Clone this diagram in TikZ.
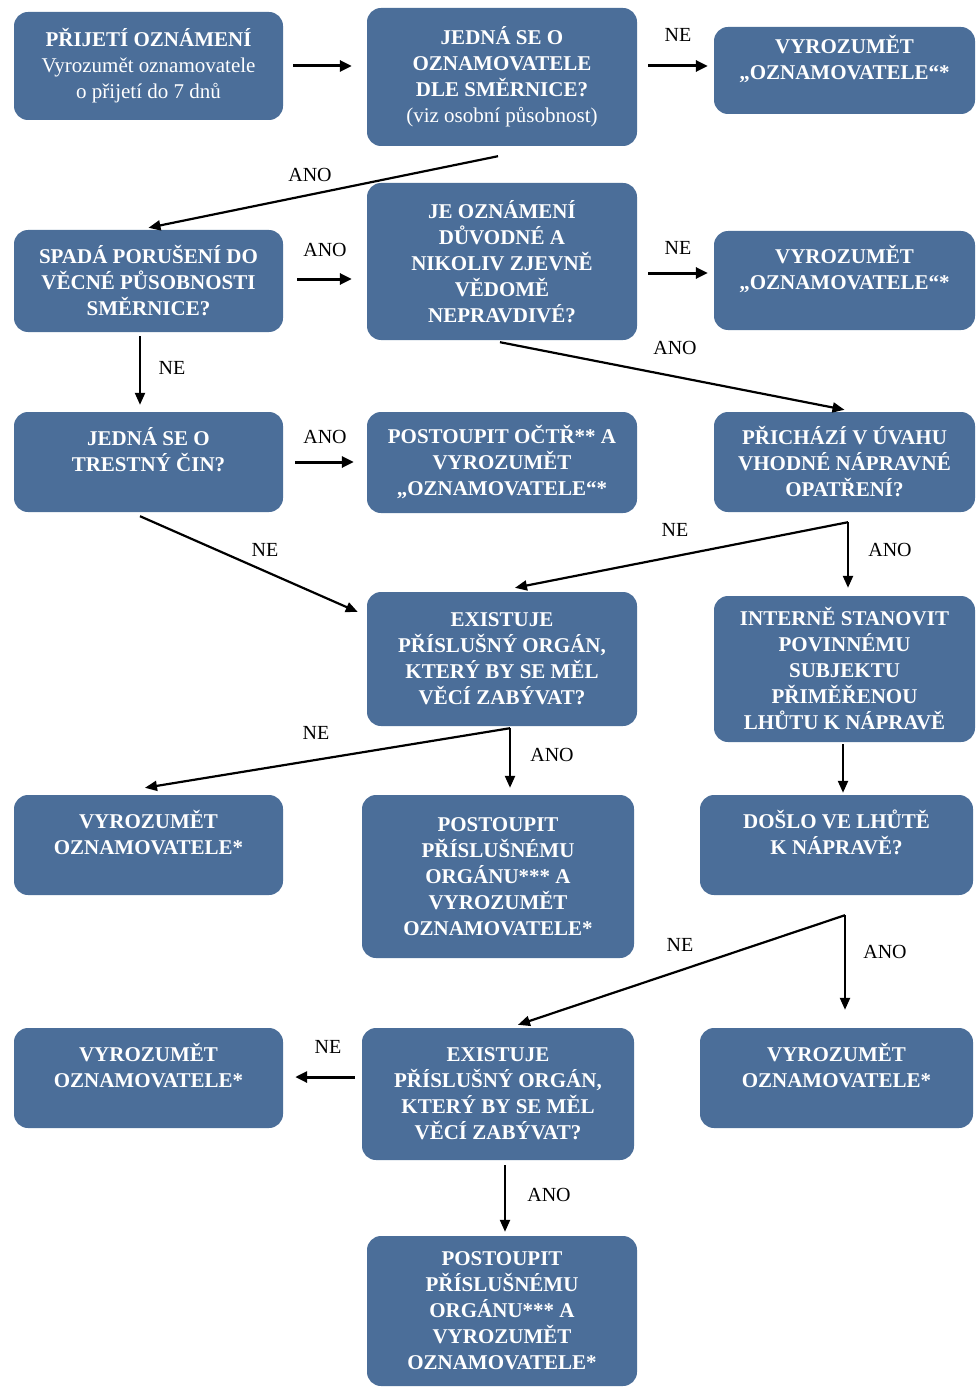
\documentclass[tikz,border=0pt]{standalone}
\usepackage{fontspec}
\setmainfont{Liberation Serif}
\usetikzlibrary{arrows.meta,calc}
\definecolor{boxblue}{RGB}{75,110,153}
\begin{document}
\begin{tikzpicture}[x=1pt,y=-1pt,
  box/.style={fill=boxblue, rounded corners=14pt, text=white, align=center, inner sep=0pt,
    font=\bfseries\fontsize{21}{26}\selectfont},
  lab/.style={font=\fontsize{20}{24}\selectfont, inner sep=0pt},
  arr/.style={-{Triangle[length=12pt,width=10pt]}, line width=2.2pt},
  harr/.style={-{Triangle[length=12pt,width=11pt]}, line width=3pt}]
\useasboundingbox (0,0) rectangle (976,1388);

% boxes
\node[box, minimum width=269pt, minimum height=108pt] (A) at (148.5,66)
  {PŘIJETÍ OZNÁMENÍ\\ {\mdseries Vyrozumět oznamovatele}\\ {\mdseries o přijetí do 7 dnů}};
\node[box, minimum width=270pt, minimum height=138pt] (B) at (502,77)
  {JEDNÁ SE O\\OZNAMOVATELE\\DLE SMĚRNICE?\\{\mdseries (viz osobní působnost)}};
\node[box, minimum width=261pt, minimum height=87pt] (C) at (844.5,70.5)
  {VYROZUMĚT\\„OZNAMOVATELE“*\\\phantom{X}};
\node[box, minimum width=269pt, minimum height=102pt] (D) at (148.5,281)
  {SPADÁ PORUŠENÍ DO\\VĚCNÉ PŮSOBNOSTI\\SMĚRNICE?};
\node[box, minimum width=270pt, minimum height=157pt] (E) at (502,261.5)
  {JE OZNÁMENÍ\\DŮVODNÉ A\\NIKOLIV ZJEVNĚ\\VĚDOMĚ\\NEPRAVDIVÉ?};
\node[box, minimum width=261pt, minimum height=99pt] (F) at (844.5,280.5)
  {VYROZUMĚT\\„OZNAMOVATELE“*\\\phantom{X}};
\node[box, minimum width=269pt, minimum height=100pt] (G) at (148.5,462)
  {JEDNÁ SE O\\TRESTNÝ ČIN?\\\phantom{X}};
\node[box, minimum width=270pt, minimum height=101pt] (H) at (502,462.5)
  {POSTOUPIT OČTŘ** A\\VYROZUMĚT\\„OZNAMOVATELE“*};
\node[box, minimum width=261pt, minimum height=100pt] (I) at (844.5,462)
  {PŘICHÁZÍ V ÚVAHU\\VHODNÉ NÁPRAVNÉ\\OPATŘENÍ?};
\node[box, minimum width=270pt, minimum height=134pt] (J) at (502,659)
  {EXISTUJE\\PŘÍSLUŠNÝ ORGÁN,\\KTERÝ BY SE MĚL\\VĚCÍ ZABÝVAT?};
\node[box, minimum width=261pt, minimum height=146pt] (K) at (844.5,669)
  {INTERNĚ STANOVIT\\POVINNÉMU\\SUBJEKTU\\PŘIMĚŘENOU\\LHŮTU K NÁPRAVĚ};
\node[box, minimum width=269pt, minimum height=100pt] (L) at (148.5,845)
  {VYROZUMĚT\\OZNAMOVATELE*\\\phantom{X}};
\node[box, minimum width=272pt, minimum height=163pt] (M) at (498,876.5)
  {POSTOUPIT\\PŘÍSLUŠNÉMU\\ORGÁNU*** A\\VYROZUMĚT\\OZNAMOVATELE*};
\node[box, minimum width=273pt, minimum height=100pt] (N) at (836.5,845)
  {DOŠLO VE LHŮTĚ\\K NÁPRAVĚ?\\\phantom{X}};
\node[box, minimum width=269pt, minimum height=100pt] (O) at (148.5,1078)
  {VYROZUMĚT\\OZNAMOVATELE*\\\phantom{X}};
\node[box, minimum width=272pt, minimum height=132pt] (P) at (498,1094)
  {EXISTUJE\\PŘÍSLUŠNÝ ORGÁN,\\KTERÝ BY SE MĚL\\VĚCÍ ZABÝVAT?};
\node[box, minimum width=273pt, minimum height=100pt] (Q) at (836.5,1078)
  {VYROZUMĚT\\OZNAMOVATELE*\\\phantom{X}};
\node[box, minimum width=270pt, minimum height=150pt] (R) at (502,1311)
  {POSTOUPIT\\PŘÍSLUŠNÉMU\\ORGÁNU*** A\\VYROZUMĚT\\OZNAMOVATELE*};

% fork points
\coordinate (f1) at ($(I.south)+(3.5,10)$);
\coordinate (f2) at ($(J.south)+(8,2)$);
\coordinate (f3) at ($(N.south)+(8.5,20)$);

% connectors
\draw[harr] ($(A.east)+(10,0)$) -- ($(B.west |- A.east)+(-15,0)$);
\draw[harr] ($(B.east)+(11,-11)$) -- ($(C.west)+(-6,-4.5)$);
\draw[arr]  ($(B.south)+(-4,10)$) -- ($(D.north)+(0,-2)$);
\draw[harr] ($(D.east)+(14,-2)$) -- ($(E.west)+(-15,17.5)$);
\draw[harr] ($(E.east)+(11,11.5)$) -- ($(F.west)+(-6,-7.5)$);
\draw[arr]  ($(E.south)+(-2,2)$) -- ($(I.north)+(0,-2)$);
\draw[arr]  ($(D.south)+(-8.5,4)$) -- ($(G.north)+(-8.5,-7)$);
\draw[harr] ($(G.east)+(12,0)$) -- ($(H.west)+(-13,-0.5)$);
\draw[arr]  ($(G.south)+(-8.5,4)$) -- ($(J.west)+(-9,-47)$);
\draw[arr]  (f1) -- ($(J.north)+(13,-4)$);
\draw[arr]  (f1) -- ($(K.north)+(3.5,-8)$);
\draw[arr]  (f2) -- ($(L.north)+(-3.5,-7)$);
\draw[arr]  (f2) -- ($(M.north)+(12,-7)$);
\draw[arr]  ($(K.south)+(-1.5,2)$) -- ($(N.north)+(6.5,-2)$);
\draw[arr]  (f3) -- ($(P.north)+(20,-3)$);
\draw[arr]  (f3) -- ($(Q.north)+(8.5,-18)$);
\draw[harr] ($(P.west)+(-7,-17)$) -- ($(O.east)+(12,-1)$);
\draw[arr]  ($(P.south)+(7,5)$) -- ($(R.north)+(3,-4)$);

% labels
\node[lab] (l1) at (678,35) {NE};
\node[lab] (l2) at (310,175) {ANO};
\node[lab] (l3) at (325,250) {ANO};
\node[lab] (l4) at (678,248) {NE};
\node[lab] (l5) at (675,348) {ANO};
\node[lab] (l6) at (172,368) {NE};
\node[lab] (l7) at (325,437) {ANO};
\node[lab] (l8) at (265,550) {NE};
\node[lab] (l9) at (675,530) {NE};
\node[lab] (l10) at (890,550) {ANO};
\node[lab] (l11) at (316,733) {NE};
\node[lab] (l12) at (552,755) {ANO};
\node[lab] (l13) at (680,945) {NE};
\node[lab] (l14) at (885,952) {ANO};
\node[lab] (l15) at (328,1047) {NE};
\node[lab] (l16) at (549,1195) {ANO};
\end{tikzpicture}
\end{document}
